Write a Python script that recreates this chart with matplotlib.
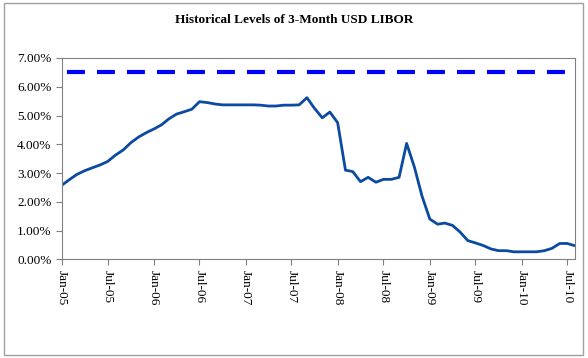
import matplotlib.pyplot as plt
import matplotlib.dates as mdates
import pandas as pd
from matplotlib.patches import Rectangle
from matplotlib.ticker import FuncFormatter

# 3M USD LIBOR, monthly, Jan-05 .. Aug-10 (%)
fechas = pd.date_range('2005-01-01', '2010-08-01', freq='MS')
libor = [2.58, 2.78, 2.95, 3.08, 3.18, 3.28, 3.40, 3.62, 3.80, 4.05, 4.25, 4.40,
         4.53, 4.68, 4.88, 5.05, 5.13, 5.22, 5.48, 5.45, 5.40, 5.37, 5.37, 5.37,
         5.37, 5.37, 5.36, 5.33, 5.33, 5.36, 5.36, 5.37, 5.62, 5.25, 4.92, 5.12,
         4.75, 3.10, 3.05, 2.70, 2.85, 2.68, 2.78, 2.78, 2.85, 4.03, 3.20, 2.20,
         1.40, 1.22, 1.26, 1.18, 0.95, 0.65, 0.57, 0.48, 0.36, 0.30, 0.30, 0.26,
         0.26, 0.26, 0.26, 0.30, 0.38, 0.55, 0.55, 0.47]
nivel_ref = 6.5
marcas = pd.date_range('2005-01-01', '2010-07-01', freq='6MS')

plt.rcParams['font.family'] = ['Liberation Serif', 'DejaVu Serif']

fig = plt.figure(figsize=(5.88, 3.58), dpi=100)
fig.patches.append(Rectangle((0.007, 0.008), 0.985, 0.984, transform=fig.transFigure,
                             fill=False, edgecolor='#a0a0a0', linewidth=1))
ax = fig.add_axes([0.1054, 0.2757, 0.8726, 0.5623])

ax.plot(fechas, libor, color='#0a4aa0', linewidth=2)
ax.plot([fechas[0], fechas[-1]], [nivel_ref, nivel_ref], color='#0000ff',
        linewidth=3, linestyle=(6.0, (4.3, 2.9)))

ax.set_xlim(fechas[0], fechas[-1])
ax.set_ylim(0, 7)
ax.set_yticks(range(0, 8))
ax.yaxis.set_major_formatter(FuncFormatter(lambda v, p: '%.2f%%' % v))
ax.set_xticks(marcas)
ax.xaxis.set_major_formatter(mdates.DateFormatter('%b-%y'))
plt.setp(ax.get_xticklabels(), rotation=-90, ha='center', va='top')

for s in ax.spines.values():
    s.set_color('#808080')
ax.tick_params(colors='#808080', labelcolor='black', labelsize=9.5, length=4)

fig.text(0.5, 0.944, 'Historical Levels of 3-Month USD LIBOR', ha='center', va='center',
         fontsize=9.5, fontweight='bold')

plt.savefig('out.png', dpi=100)
